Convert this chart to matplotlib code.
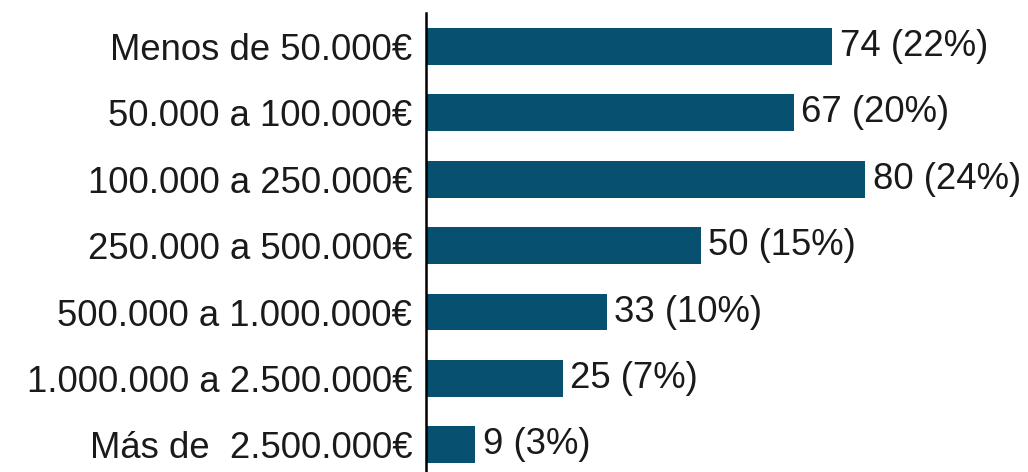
import matplotlib.pyplot as plt

categories = ['Menos de 50.000€', '50.000 a 100.000€', '100.000 a 250.000€',
              '250.000 a 500.000€', '500.000 a 1.000.000€',
              '1.000.000 a 2.500.000€', 'Más de  2.500.000€']
counts = [74, 67, 80, 50, 33, 25, 9]
shares = [22, 20, 24, 15, 10, 7, 3]

plt.rcParams['font.family'] = ['Liberation Sans', 'DejaVu Sans']

fig = plt.figure(figsize=(10.28, 4.72), dpi=100)
ax = fig.add_axes([426 / 1028, 0, 1 - 426 / 1028, 1 - 13 / 472])

pos = list(range(len(categories)))
ax.barh(pos, counts, height=0.557, color='#08506f')
for p, c, s in zip(pos, counts, shares):
    ax.text(c + 1.3, p, f'{c} ({s}%)', va='center', ha='left', fontsize=26.3, color='#1a1a1a')

ax.set_yticks(pos)
ax.set_yticklabels(categories, fontsize=26.3, color='#1a1a1a')
ax.tick_params(axis='y', length=0, pad=10)
ax.set_xticks([])
ax.set_xlim(0, 109.6)
ax.set_ylim(6.41, -0.504)
for side in ['top', 'right', 'bottom']:
    ax.spines[side].set_visible(False)
ax.spines['left'].set_linewidth(1.8)
ax.spines['left'].set_color('black')

fig.savefig('out.png', dpi=100)
